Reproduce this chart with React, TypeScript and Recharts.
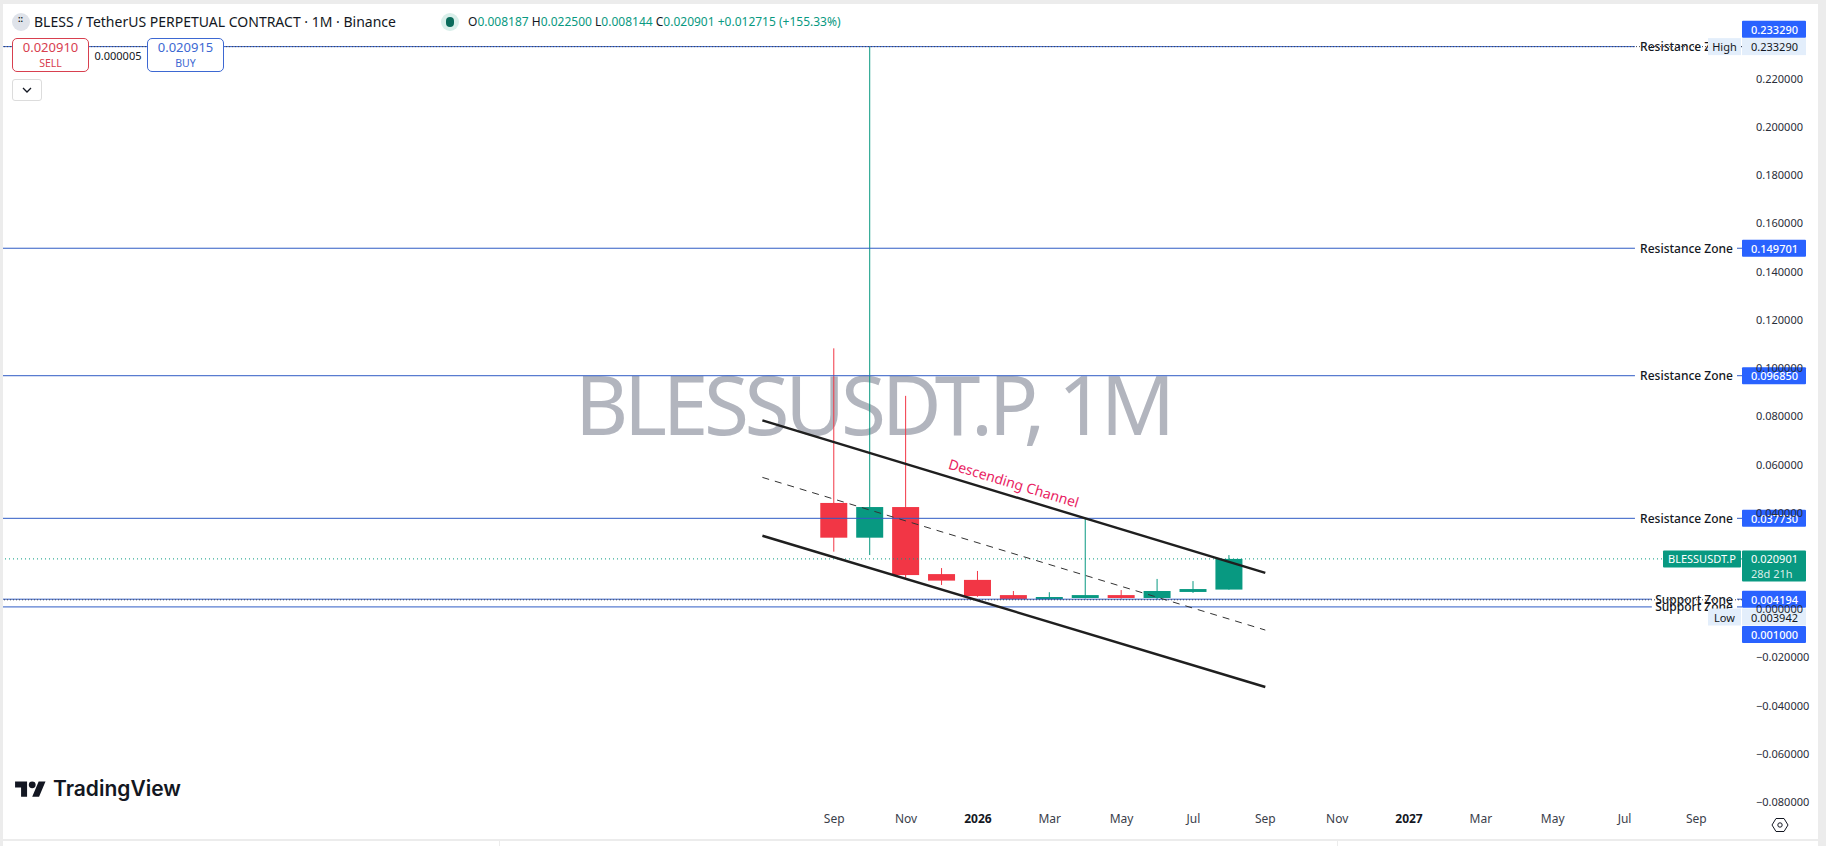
import React from "react";
import { Bar, ComposedChart, ReferenceDot, ReferenceLine, XAxis, YAxis } from "recharts";

const months = ["Sep", "Oct", "Nov", "Dec", "Jan", "Feb", "Mar", "Apr", "May", "Jun", "Jul", "Aug"];
const opens = [0.0441, 0.0297, 0.0424, 0.0146, 0.0122, 0.0059, 0.0042, 0.0047, 0.0059, 0.0047, 0.0072, 0.008187];
const closes = [0.0297, 0.0424, 0.0142, 0.0119, 0.0055, 0.0043, 0.0051, 0.0059, 0.0047, 0.0076, 0.0084, 0.020901];
const highs = [0.1082, 0.23329, 0.0885, 0.0171, 0.0159, 0.0076, 0.0071, 0.0377, 0.008, 0.0126, 0.0117, 0.0225];
const lows = [0.0239, 0.0225, 0.0129, 0.0101, 0.0052, 0.0042, 0.0041, 0.0045, 0.0044, 0.0041, 0.0068, 0.008144];

const priceTicks = [0.22, 0.2, 0.18, 0.16, 0.14, 0.12, 0.1, 0.08, 0.06, 0.04, 0, -0.02, -0.04, -0.06, -0.08];
const timeTicks = [0, 2, 4, 6, 8, 10, 12, 14, 16, 18, 20, 22, 24];
const timeLabels = ["Sep", "Nov", "2026", "Mar", "May", "Jul", "Sep", "Nov", "2027", "Mar", "May", "Jul", "Sep"];

const resistanceLevels = [0.23329, 0.149701, 0.09685, 0.03773];
const supportLevels = [0.004194, 0.001];
const HIGH = 0.23329;
const LOW = 0.003942;
const LAST = 0.020901;

const channelTop = [{ x: -2, y: 0.0783 }, { x: 12, y: 0.0151 }];
const channelMid = [{ x: -2, y: 0.0547 }, { x: 12, y: -0.0086 }];
const channelLow = [{ x: -2, y: 0.0305 }, { x: 12, y: -0.0322 }];

const rows = months.map((month, i) => ({
  x: i,
  month,
  open: opens[i],
  close: closes[i],
  high: highs[i],
  low: lows[i],
}));

const FONT = "'Noto Sans', sans-serif";
const GREEN = "#089981";
const RED = "#f23645";
const BLUE = "#2962ff";
const LINE_BLUE = "#2f5bc4";
const X_MIN = -23.14;
const X_MAX = 25.27;
const tagShift: Record<number, number> = { 0.23329: -17.3, 0.001: 27.7 };

const fmtPrice = (v: number) => (v < 0 ? "\u2212" : "") + Math.abs(v).toFixed(6);

function Candle(props: any) {
  const { x, y, width, height, payload } = props;
  const k = height / (payload.high - payload.low);
  const yOf = (v: number) => y + (payload.high - v) * k;
  const color = payload.close >= payload.open ? GREEN : RED;
  const top = yOf(Math.max(payload.open, payload.close));
  const bottom = yOf(Math.min(payload.open, payload.close));
  const cx = x + width / 2;
  return (
    <g>
      <line x1={cx} x2={cx} y1={y} y2={y + height} stroke={color} strokeWidth={1} />
      <rect x={x} y={top} width={width} height={Math.max(bottom - top, 1)} fill={color} />
    </g>
  );
}

function levelLabel(value: number, name: string) {
  return (props: any) => {
    const y = props.viewBox.y;
    const tagY = y + (tagShift[value] ?? 0);
    return (
      <g fontFamily={FONT}>
        <text x={1733} y={y} textAnchor="end" dominantBaseline="central" fontSize={12} fontWeight={500} fill="#131722">
          {name}
        </text>
        <line x1={1737} x2={1742} y1={y} y2={y} stroke={LINE_BLUE} />
        <rect x={1742} y={tagY - 8.5} width={64} height={17} fill={BLUE} rx={1} />
        <text x={1751} y={tagY} dominantBaseline="central" fontSize={11} fontWeight={500} fill="#ffffff">
          {fmtPrice(value)}
        </text>
      </g>
    );
  };
}

function extremeLabel(value: number, name: string, shift: number) {
  return (props: any) => {
    const y = props.viewBox.y + shift;
    return (
      <g fontFamily={FONT} fontSize={11} fill="#131722">
        <rect x={1708} y={y - 8.5} width={33} height={17} fill="#e3eefb" />
        <rect x={1742} y={y - 8.5} width={64} height={17} fill="#e3eefb" />
        <text x={1724.5} y={y} textAnchor="middle" dominantBaseline="central">{name}</text>
        <text x={1751} y={y} dominantBaseline="central">{fmtPrice(value)}</text>
      </g>
    );
  };
}

function lastLabel(props: any) {
  const y = props.viewBox.y;
  return (
    <g fontFamily={FONT} fontSize={11} fill="#ffffff">
      <rect x={1663} y={y - 8.5} width={78} height={17} fill={GREEN} rx={1} />
      <rect x={1742} y={y - 8.5} width={64} height={31} fill={GREEN} rx={1} />
      <text x={1702} y={y} textAnchor="middle" dominantBaseline="central">BLESSUSDT.P</text>
      <text x={1751} y={y} dominantBaseline="central">{fmtPrice(LAST)}</text>
      <text x={1751} y={y + 14.5} dominantBaseline="central" fillOpacity={0.85}>28d 21h</text>
    </g>
  );
}

function channelLabel(props: any) {
  const { x, y } = props.viewBox;
  return (
    <text
      x={x}
      y={y}
      textAnchor="middle"
      dominantBaseline="central"
      transform={`rotate(16.9 ${x} ${y})`}
      fontFamily={FONT}
      fontSize={14}
      fill="#e91e63"
    >
      Descending Channel
    </text>
  );
}

function TimeTick(props: any) {
  const { x, y, payload, index } = props;
  const label = timeLabels[index] ?? timeLabels[timeTicks.indexOf(payload.value)];
  const isYear = label.startsWith("20");
  return (
    <text
      x={x}
      y={y}
      textAnchor="middle"
      dominantBaseline="central"
      fontFamily={FONT}
      fontSize={12}
      fontWeight={isYear ? 700 : 400}
      fill={isYear ? "#131722" : "#3a3e4a"}
    >
      {label}
    </text>
  );
}

const abs = (left: number, top: number, width: number, height: number): React.CSSProperties => ({
  position: "absolute",
  left,
  top,
  width,
  height,
  boxSizing: "border-box",
});

function Ticket({ left, price, side, color }: { left: number; price: string; side: string; color: string }) {
  return (
    <div
      style={{
        ...abs(left, 38, 77, 34),
        border: `1px solid ${color}`,
        borderRadius: 5,
        background: "#fff",
        color,
        textAlign: "center",
        fontFamily: FONT,
      }}
    >
      <div style={{ fontSize: 13, lineHeight: "17px", marginTop: 0 }}>{price}</div>
      <div style={{ fontSize: 10.5, lineHeight: "14px" }}>{side}</div>
    </div>
  );
}

function Header() {
  const value = { color: GREEN };
  return (
    <div style={{ position: "absolute", left: 0, top: 0, fontFamily: FONT }}>
      <div style={{ ...abs(12, 13, 18, 18), borderRadius: 9, background: "#dfe3ea" }} />
      <div style={{ ...abs(18, 16, 6, 12), color: "#131722", fontSize: 9, lineHeight: "6px", fontWeight: 700, letterSpacing: 0 }}>
        ::
      </div>
      <div style={{ position: "absolute", left: 34, top: 12, whiteSpace: "nowrap", fontSize: 14, lineHeight: "20px", color: "#131722" }}>
        BLESS / TetherUS PERPETUAL CONTRACT · 1M · Binance
      </div>
      <div style={{ ...abs(441, 13, 18, 18), borderRadius: 9, background: "#d9efea" }} />
      <div style={{ ...abs(446, 17, 8, 10), borderRadius: 5, background: "#0b6b5b" }} />
      <div style={{ position: "absolute", left: 468, top: 13, whiteSpace: "nowrap", fontSize: 12, lineHeight: "18px", color: "#131722" }}>
        O<span style={value}>0.008187</span> H<span style={value}>0.022500</span> L<span style={value}>0.008144</span> C
        <span style={value}>0.020901</span> <span style={value}>+0.012715 (+155.33%)</span>
      </div>
      <Ticket left={12} price="0.020910" side="SELL" color="#d8404f" />
      <Ticket left={147} price="0.020915" side="BUY" color="#3d68d2" />
      <div style={{ ...abs(89, 48, 58, 16), background: "#fff", textAlign: "center", fontSize: 11, lineHeight: "16px", color: "#131722" }}>
        0.000005
      </div>
      <div style={{ ...abs(12, 79, 30, 22), border: "1px solid #dcdcdc", borderRadius: 3, background: "#fff" }}>
        <svg width={28} height={20} style={{ display: "block" }}>
          <path d="M10 8 L14 12 L18 8" fill="none" stroke="#131722" strokeWidth={1.3} />
        </svg>
      </div>
    </div>
  );
}

function Logo() {
  return (
    <>
      <svg viewBox="0 0 36 28" style={abs(15, 778, 31, 24)}>
        <path d="M14 22H7V11H0V4h14v18zM28 22h-8l7.5-18h8L28 22z" fill="#131722" />
        <circle cx="20" cy="8" r="4" fill="#131722" />
      </svg>
      <div
        style={{
          position: "absolute",
          left: 53,
          top: 776,
          fontFamily: "Inter, sans-serif",
          fontWeight: 600,
          fontSize: 21,
          lineHeight: "26px",
          color: "#131722",
          whiteSpace: "nowrap",
        }}
      >
        TradingView
      </div>
    </>
  );
}

export default function App() {
  return (
    <div style={{ ...abs(0, 0, 1826, 846), background: "#ffffff", overflow: "hidden" }}>
      <svg width={1826} height={846} style={{ position: "absolute", left: 0, top: 0 }}>
        <text x={575} y={435} fontFamily={FONT} fontSize={82} fill="#b2b5be" textLength={600}>
          BLESSUSDT.P, 1M
        </text>
      </svg>
      <div style={{ position: "absolute", left: 0, top: 0 }}>
        <ComposedChart
          width={1826}
          height={846}
          data={rows}
          margin={{ top: 8, right: 9, bottom: 0, left: 3 }}
          barSize={27}
        >
          <XAxis
            dataKey="x"
            type="number"
            domain={[X_MIN, X_MAX]}
            allowDataOverflow
            ticks={timeTicks}
            tick={<TimeTick />}
            tickLine={false}
            axisLine={false}
            height={36}
            interval={0}
          />
          <YAxis
            orientation="right"
            type="number"
            domain={[-0.0832, 0.2493]}
            allowDataOverflow
            ticks={priceTicks}
            tickFormatter={fmtPrice}
            tick={{ fontFamily: FONT, fontSize: 11, fill: "#2a2e39", textAnchor: "start" }}
            tickLine={false}
            axisLine={false}
            tickMargin={8}
            width={75}
            interval={0}
          />
          <Bar dataKey={(d: any) => [d.low, d.high]} shape={<Candle />} isAnimationActive={false} />

          <ReferenceLine y={LAST} stroke={GREEN} strokeDasharray="1 3" label={lastLabel} />

          {resistanceLevels.map((v) => (
            <ReferenceLine
              key={v}
              segment={[{ x: X_MIN, y: v }, { x: 22.29, y: v }]}
              stroke={LINE_BLUE}
              strokeWidth={1}
              label={levelLabel(v, "Resistance Zone")}
            />
          ))}
          {supportLevels.map((v) => (
            <ReferenceLine
              key={v}
              segment={[{ x: X_MIN, y: v }, { x: 22.76, y: v }]}
              stroke={LINE_BLUE}
              strokeWidth={1}
              label={levelLabel(v, "Support Zone")}
            />
          ))}
          <ReferenceLine y={HIGH} stroke="#434651" strokeDasharray="1 2" label={extremeLabel(HIGH, "High", 0)} />
          <ReferenceLine y={LOW} stroke="#434651" strokeDasharray="1 2" label={extremeLabel(LOW, "Low", 17.2)} />

          <ReferenceLine segment={channelTop} stroke="#1f1f1f" strokeWidth={2.4} />
          <ReferenceLine segment={channelMid} stroke="#333333" strokeWidth={1} strokeDasharray="7 6" />
          <ReferenceLine segment={channelLow} stroke="#1f1f1f" strokeWidth={2.4} />
          <ReferenceDot x={5} y={0.0524} r={0} fill="none" stroke="none" label={channelLabel} />
        </ComposedChart>
      </div>

      <Header />
      <Logo />
      <svg width={20} height={20} style={{ position: "absolute", left: 1770, top: 815 }}>
        <path d="M6 3.5 H14 L18 10 L14 16.5 H6 L2 10 Z" fill="none" stroke="#131722" strokeWidth={1} />
        <circle cx={10} cy={10} r={2.2} fill="none" stroke="#131722" strokeWidth={1} />
      </svg>

      <div style={{ ...abs(0, 0, 1826, 4), background: "#ececec" }} />
      <div style={{ ...abs(0, 0, 3, 846), background: "#ececec" }} />
      <div style={{ ...abs(1818, 0, 8, 846), background: "#ececec" }} />
      <div style={{ ...abs(0, 839, 1826, 2), background: "#ececec" }} />
      <div style={{ ...abs(499, 841, 1, 5), background: "#ececec" }} />
      <div style={{ ...abs(1337, 841, 1, 5), background: "#ececec" }} />
    </div>
  );
}
